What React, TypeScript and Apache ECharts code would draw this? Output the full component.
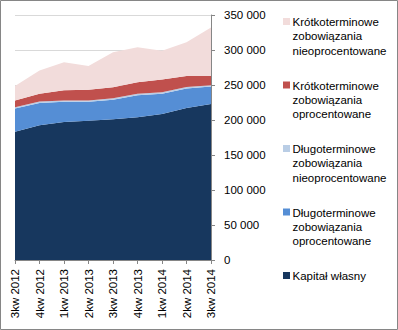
import React, { useEffect, useRef } from "react";
import * as echarts from "echarts";

const categories = ["3kw 2012", "4kw 2012", "1kw 2013", "2kw 2013", "3kw 2013", "4kw 2013", "1kw 2014", "2kw 2014", "3kw 2014"];
const kapitalWlasny = [183300, 192400, 197000, 199000, 201000, 204000, 208600, 217000, 222900];
const dlugoOproc = [33000, 32000, 29000, 27000, 28000, 31500, 29000, 28000, 25000];
const dlugoNieoproc = [2000, 2000, 2000, 2000, 2000, 2000, 2000, 2000, 1800];
const krotkoOproc = [9500, 11000, 14500, 15300, 15700, 16500, 18400, 15900, 13300];
const krotkoNieoproc = [20600, 33400, 40000, 33700, 50000, 50000, 41000, 48100, 69000];
const yTicks = [0, 50000, 100000, 150000, 200000, 250000, 300000, 350000];

const seriesNames = [
  "Kapitał własny",
  "Długoterminowe zobowiązania oprocentowane",
  "Długoterminowe zobowiązania nieoprocentowane",
  "Krótkoterminowe zobowiązania oprocentowane",
  "Krótkoterminowe zobowiązania nieoprocentowane",
];
const legendLines = [
  ["Kapitał własny"],
  ["Długoterminowe", "zobowiązania", "oprocentowane"],
  ["Długoterminowe", "zobowiązania", "nieoprocentowane"],
  ["Krótkoterminowe", "zobowiązania", "oprocentowane"],
  ["Krótkoterminowe", "zobowiązania", "nieoprocentowane"],
];
const colors = ["#17375E", "#558ED5", "#B9CDE5", "#C0504D", "#F2DCDB"];
const seriesData = [kapitalWlasny, dlugoOproc, dlugoNieoproc, krotkoOproc, krotkoNieoproc];

const FONT = "'Liberation Sans', Arial, sans-serif";

export default function App() {
  const ref = useRef<HTMLDivElement>(null);
  useEffect(() => {
    if (!ref.current) return;
    const chart = echarts.init(ref.current, undefined, { renderer: "svg" });
    const legendGraphics: any[] = [];
    // legend top to bottom: reversed order
    for (let k = 0; k < 5; k++) {
      const idx = 4 - k;
      const y0 = 22 + k * 63.5;
      legendGraphics.push({
        type: "rect",
        shape: { x: 283, y: y0 - 4, width: 7, height: 7 },
        style: { fill: colors[idx] },
      });
      legendLines[idx].forEach((ln, j) => {
        legendGraphics.push({
          type: "text",
          x: 292.5,
          y: y0 + j * 14.4,
          style: {
            text: ln,
            fill: "#000",
            font: `11.5px ${FONT}`,
            textVerticalAlign: "middle",
            textAlign: "left",
          },
        });
      });
    }
    chart.setOption({
      animation: false,
      backgroundColor: "#fff",
      grid: { left: 15, top: 15, width: 196, height: 245 },
      xAxis: {
        type: "category",
        data: categories,
        boundaryGap: false,
        axisLine: { lineStyle: { color: "#868686" } },
        axisTick: { show: true, length: 4, lineStyle: { color: "#868686" } },
        axisLabel: { rotate: 90, color: "#000", fontSize: 11.5, fontFamily: FONT, margin: 9, interval: 0 },
      },
      yAxis: {
        type: "value",
        position: "right",
        min: 0,
        max: 350000,
        interval: 50000,
        axisLine: { show: true, lineStyle: { color: "#868686" } },
        axisTick: { show: true, length: 4, lineStyle: { color: "#868686" } },
        splitLine: { show: true, lineStyle: { color: "#D9D9D9" } },
        axisLabel: {
          color: "#000",
          fontSize: 11.5,
          fontFamily: FONT,
          margin: 13,
          formatter: (v: number) => {
            const i = yTicks.indexOf(v);
            const val = i >= 0 ? yTicks[i] : v;
            return String(val).replace(/\B(?=(\d{3})+(?!\d))/g, " ");
          },
        },
      },
      series: seriesData.map((d, i) => ({
        name: seriesNames[i],
        type: "line",
        stack: "total",
        data: d,
        showSymbol: false,
        symbol: "none",
        lineStyle: { width: 0 },
        areaStyle: { color: colors[i], opacity: 1 },
        itemStyle: { color: colors[i] },
      })),
      graphic: [
        {
          type: "rect",
          shape: { x: 0.5, y: 0.5, width: 397, height: 329 },
          style: { fill: "none", stroke: "#868686", lineWidth: 1 },
          z: 100,
        },
        ...legendGraphics,
      ],
    });
    return () => chart.dispose();
  }, []);
  return (
    <div
      ref={ref}
      style={{ position: "absolute", left: 0, top: 0, width: 398, height: 330 }}
    />
  );
}
